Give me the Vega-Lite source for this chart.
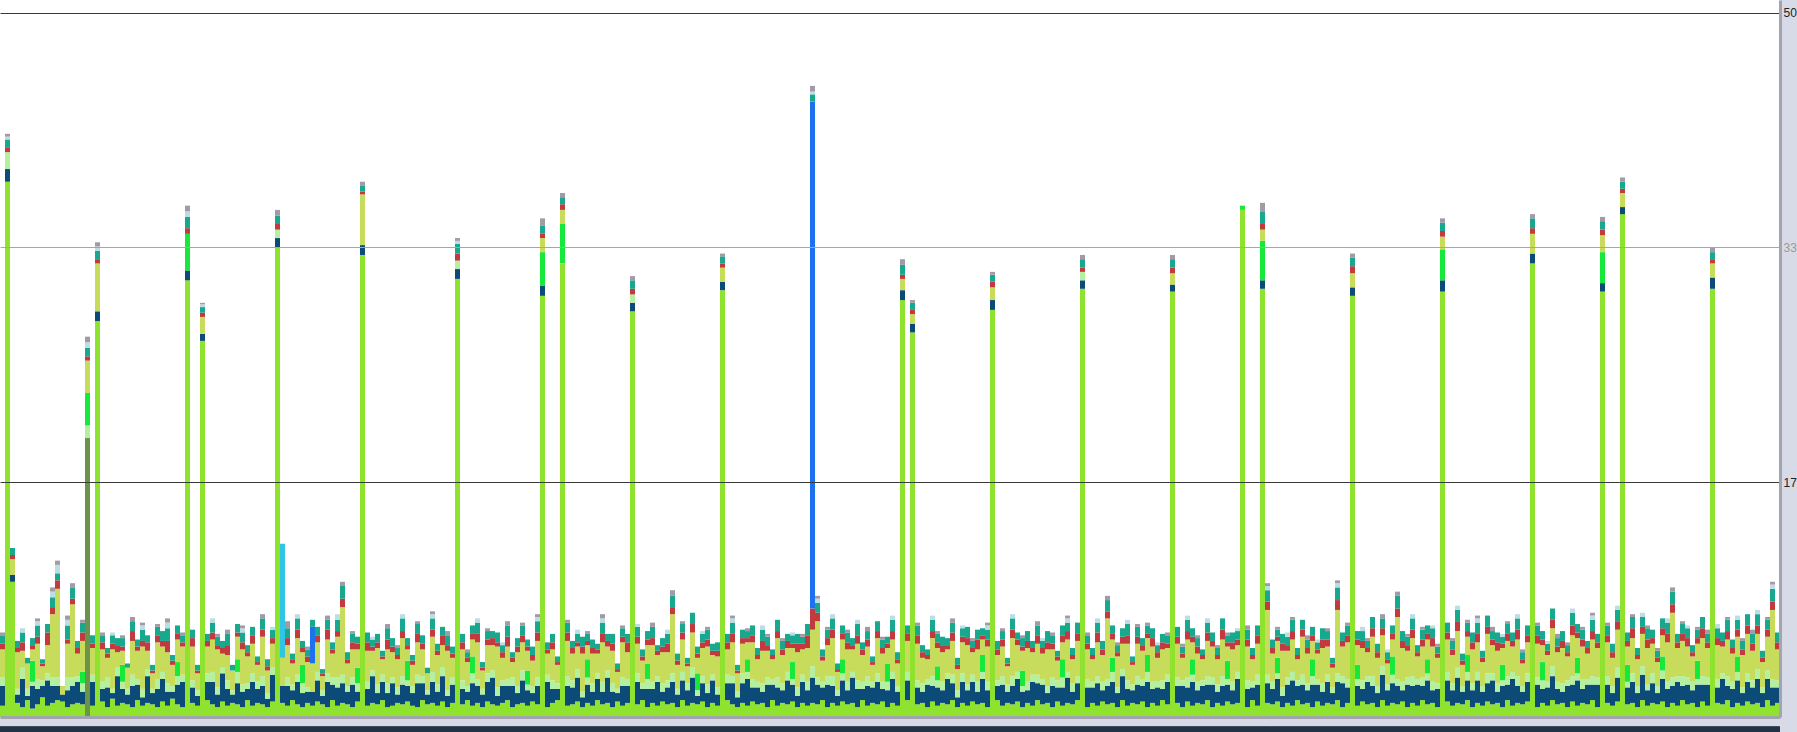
{
"$schema": "https://vega.github.io/schema/vega-lite/v6.json",
"width": 1780, "height": 717,
"autosize": {"type": "none"},
"padding": {"left": 0, "top": 0, "right": 17, "bottom": 15},
"background": "#d6dbe7",
"config": {"view": {"fill": "white", "stroke": null}},
"data": {"values": [
{"x":0,"b":0.8,"c":1.4,"d":0.6,"f":2.0,"g":0.4,"i":0.6,"k":0.2},
{"x":1,"b":38.0,"c":0.9,"d":1.2,"g":0.3,"i":0.6,"j":0.2,"k":0.2},
{"x":2,"b":9.6,"c":0.5,"f":1.1,"g":0.3,"i":0.5},
{"x":3,"b":1.0,"c":0.6,"d":0.4,"f":2.6,"g":0.3,"i":0.5},
{"x":4,"b":0.7,"c":2.0,"d":0.8,"f":1.2,"g":0.6,"i":0.7,"j":0.3},
{"x":5,"b":1.2,"c":0.3,"d":0.5,"f":1.8,"i":0.4},
{"x":6,"b":0.6,"c":1.6,"d":0.3,"e":1.5,"f":0.8,"g":0.3,"i":0.5},
{"x":7,"b":0.9,"c":1.1,"d":0.7,"f":2.5,"g":0.5,"i":0.8,"j":0.3,"k":0.2},
{"x":8,"b":1.4,"c":0.8,"d":0.4,"f":1.0,"g":0.2,"i":0.3},
{"x":9,"b":0.8,"c":1.8,"d":0.5,"f":2.0,"g":0.9,"i":0.6},
{"x":10,"b":1.0,"c":1.2,"d":0.6,"f":4.5,"g":0.5,"i":0.7,"j":0.4,"k":0.3},
{"x":11,"b":1.2,"c":1.0,"d":0.6,"f":6.3,"g":0.6,"i":0.5,"j":0.6,"k":0.3},
{"x":12,"b":1.1,"c":0.5,"f":0.6},
{"x":13,"b":0.7,"c":1.2,"d":0.9,"f":2.4,"g":0.3,"i":1.0,"j":0.4,"k":0.3},
{"x":14,"b":0.9,"c":1.3,"d":0.6,"f":5.2,"g":0.4,"i":0.8,"k":0.3},
{"x":15,"b":1.0,"c":1.5,"d":0.4,"f":1.6,"g":0.4,"i":0.5},
{"x":16,"b":0.9,"c":0.9,"d":0.6,"e":0.8,"f":2.2,"g":0.6,"i":0.7,"k":0.2},
{"x":17,"a":19.8,"d":0.9,"e":2.3,"f":2.3,"g":0.3,"i":0.6,"j":0.4,"k":0.4},
{"x":18,"b":0.8,"c":1.7,"d":0.5,"f":1.9,"g":0.3,"i":0.6},
{"x":19,"b":28.1,"c":0.7,"f":3.4,"g":0.3,"i":0.6,"j":0.3,"k":0.3},
{"x":20,"b":1.1,"c":0.9,"d":0.5,"f":2.3,"g":0.5,"i":0.5,"k":0.2},
{"x":21,"b":0.7,"c":1.4,"d":0.7,"f":1.4,"g":0.3,"i":0.4},
{"x":22,"b":1.3,"c":0.4,"d":0.3,"f":2.8,"g":0.4,"i":0.6,"j":0.2},
{"x":23,"b":0.8,"c":2.1,"d":0.6,"f":1.1,"g":0.5,"i":0.5},
{"x":24,"b":1.0,"c":1.0,"d":0.5,"e":1.2,"f":1.0,"g":0.3,"i":0.6,"k":0.2},
{"x":25,"b":0.9,"c":0.7,"d":0.4,"f":1.5,"i":0.3},
{"x":26,"b":0.7,"c":1.5,"d":0.8,"f":2.4,"g":0.7,"i":0.7,"k":0.3},
{"x":27,"b":1.2,"c":1.1,"d":0.4,"f":2.0,"g":0.3,"i":0.5},
{"x":28,"b":0.8,"c":0.6,"d":0.6,"f":3.0,"g":0.4,"i":0.8,"j":0.3,"k":0.2},
{"x":29,"b":1.0,"c":1.9,"d":0.5,"f":1.3,"g":0.6,"i":0.5},
{"x":30,"b":0.9,"c":0.8,"d":0.3,"f":1.1,"g":0.2,"i":0.4},
{"x":31,"b":0.7,"c":1.3,"d":0.7,"f":2.6,"g":0.5,"i":0.6,"k":0.2},
{"x":32,"b":1.1,"c":1.6,"d":0.5,"f":1.8,"g":0.4,"i":0.7},
{"x":33,"b":0.8,"c":1.0,"d":0.6,"f":2.2,"g":0.8,"i":0.9,"j":0.4,"k":0.3},
{"x":34,"b":1.3,"c":0.5,"d":0.4,"f":1.5,"g":0.3,"i":0.4},
{"x":35,"b":0.9,"c":1.4,"d":0.6,"e":1.0,"f":1.6,"g":0.4,"i":0.6},
{"x":36,"b":0.7,"c":1.8,"d":0.5,"f":2.0,"g":0.3,"i":0.5,"k":0.2},
{"x":37,"b":31.0,"c":0.7,"e":2.6,"g":0.4,"i":0.8,"j":0.4,"k":0.4},
{"x":38,"b":1.0,"c":1.1,"d":0.5,"f":2.4,"g":0.6,"i":0.6},
{"x":39,"b":0.8,"c":0.7,"d":0.4,"f":1.2,"g":0.2,"i":0.4},
{"x":40,"b":26.7,"c":0.5,"f":1.2,"g":0.3,"i":0.4,"j":0.2,"k":0.1},
{"x":41,"b":1.2,"c":1.3,"d":0.6,"f":1.9,"g":0.4,"i":0.5},
{"x":42,"b":0.9,"c":1.6,"d":0.7,"f":2.3,"g":0.5,"i":0.7,"j":0.3},
{"x":43,"b":0.7,"c":0.9,"d":0.5,"f":2.7,"g":0.3,"i":0.6,"k":0.2},
{"x":44,"b":1.1,"c":2.0,"d":0.4,"f":1.0,"g":0.4,"i":0.5},
{"x":45,"b":0.8,"c":1.2,"d":0.6,"f":1.8,"g":0.7,"i":0.8,"k":0.3},
{"x":46,"b":1.0,"c":0.6,"d":0.3,"f":1.4,"i":0.4},
{"x":47,"b":0.9,"c":1.5,"d":0.8,"e":0.9,"f":1.6,"g":0.3,"i":0.6},
{"x":48,"b":0.7,"c":1.1,"d":0.5,"f":2.5,"g":0.5,"i":0.7,"j":0.3,"k":0.2},
{"x":49,"b":1.2,"c":0.8,"d":0.4,"f":1.9,"g":0.3,"i":0.5},
{"x":50,"b":0.8,"c":1.7,"d":0.6,"f":2.1,"g":0.6,"i":0.6},
{"x":51,"b":1.0,"c":1.0,"d":0.5,"f":1.2,"g":0.2,"i":0.4},
{"x":52,"b":0.9,"c":1.3,"d":0.7,"f":2.8,"g":0.5,"i":0.8,"k":0.3},
{"x":53,"b":0.7,"c":0.6,"d":0.4,"f":1.6,"g":0.3,"i":0.5},
{"x":54,"b":1.1,"c":1.9,"d":0.5,"f":1.7,"g":0.4,"i":0.6,"j":0.2},
{"x":55,"b":33.3,"c":0.7,"d":0.6,"g":0.4,"i":0.6,"k":0.4},
{"x":56,"b":1.0,"c":1.2,"f":2.0,"l":8.1},
{"x":57,"b":0.8,"c":1.4,"d":0.6,"f":2.3,"g":0.5,"i":0.7,"k":0.5},
{"x":58,"b":1.2,"c":0.7,"d":0.4,"f":1.5,"g":0.3,"i":0.4},
{"x":59,"b":0.9,"c":1.6,"d":0.5,"f":2.6,"g":0.6,"i":0.8,"j":0.3},
{"x":60,"b":0.7,"c":1.0,"d":0.7,"e":1.3,"f":0.9,"g":0.3,"i":0.5},
{"x":61,"b":1.0,"c":0.8,"d":0.3,"f":1.8,"g":0.4,"i":0.5,"k":0.2},
{"x":62,"b":0.8,"c":1.0,"f":2.0,"h":2.6,"i":0.5},
{"x":63,"b":1.1,"c":1.5,"d":0.6,"f":2.1,"g":0.5,"i":0.6},
{"x":64,"b":0.9,"c":0.6,"d":0.4,"f":1.0,"g":0.2,"i":0.3},
{"x":65,"b":0.7,"c":1.8,"d":0.6,"f":2.4,"g":0.7,"i":0.7,"k":0.3},
{"x":66,"b":1.2,"c":1.1,"d":0.5,"f":1.7,"g":0.3,"i":0.5},
{"x":67,"b":0.8,"c":1.3,"d":0.7,"f":2.9,"g":0.4,"i":0.8,"j":0.4},
{"x":68,"b":1.0,"c":1.4,"d":0.6,"f":4.8,"g":0.6,"i":0.9,"k":0.3},
{"x":69,"b":0.9,"c":0.9,"d":0.4,"f":1.6,"g":0.3,"i":0.5},
{"x":70,"b":0.7,"c":1.6,"d":0.5,"f":2.0,"g":0.5,"i":0.6,"k":0.2},
{"x":71,"b":1.1,"c":0.7,"d":0.6,"e":1.1,"f":1.3,"g":0.4,"i":0.5},
{"x":72,"b":32.8,"c":0.7,"f":3.6,"g":0.2,"i":0.4,"k":0.3},
{"x":73,"b":0.8,"c":1.2,"d":0.5,"f":2.2,"g":0.6,"i":0.7},
{"x":74,"b":1.0,"c":1.9,"d":0.4,"f":1.4,"g":0.3,"i":0.5,"j":0.2},
{"x":75,"b":0.9,"c":0.8,"d":0.6,"f":2.6,"g":0.4,"i":0.6},
{"x":76,"b":1.2,"c":1.3,"d":0.5,"f":1.1,"g":0.2,"i":0.4},
{"x":77,"b":0.7,"c":1.0,"d":0.7,"f":2.4,"g":0.7,"i":0.8,"k":0.3},
{"x":78,"b":0.8,"c":1.6,"d":0.4,"f":1.8,"g":0.4,"i":0.6},
{"x":79,"b":1.0,"c":0.6,"d":0.5,"f":2.0,"g":0.3,"i":0.5,"k":0.2},
{"x":80,"b":0.9,"c":1.4,"d":0.6,"f":2.7,"g":0.5,"i":0.9,"j":0.3},
{"x":81,"b":1.1,"c":1.1,"d":0.4,"e":1.4,"f":0.8,"g":0.3,"i":0.5},
{"x":82,"b":0.8,"c":0.9,"d":0.5,"f":1.5,"g":0.3,"i":0.4},
{"x":83,"b":0.7,"c":1.7,"d":0.6,"f":2.3,"g":0.6,"i":0.7,"k":0.2},
{"x":84,"b":1.2,"c":1.2,"d":0.5,"f":1.9,"g":0.4,"i":0.6},
{"x":85,"b":0.9,"c":0.7,"d":0.3,"f":1.2,"i":0.4},
{"x":86,"b":1.0,"c":1.5,"d":0.7,"f":2.5,"g":0.5,"i":0.8,"j":0.3,"k":0.2},
{"x":87,"b":0.8,"c":1.0,"d":0.5,"f":2.1,"g":0.3,"i":0.5},
{"x":88,"b":1.1,"c":1.8,"d":0.6,"f":1.6,"g":0.7,"i":0.6},
{"x":89,"b":0.7,"c":0.8,"d":0.4,"f":2.8,"g":0.4,"i":0.7,"k":0.3},
{"x":90,"b":1.0,"c":1.3,"d":0.5,"f":1.4,"g":0.3,"i":0.5},
{"x":91,"b":31.1,"c":0.7,"d":0.6,"g":0.5,"i":0.7,"j":0.2,"k":0.2},
{"x":92,"b":0.9,"c":1.1,"d":0.6,"f":2.2,"g":0.5,"i":0.6},
{"x":93,"b":1.2,"c":0.6,"d":0.4,"f":1.7,"g":0.3,"i":0.4,"k":0.2},
{"x":94,"b":0.8,"c":1.6,"d":0.7,"e":1.2,"f":1.2,"g":0.4,"i":0.6},
{"x":95,"b":1.0,"c":1.2,"d":0.5,"f":2.6,"g":0.6,"i":0.8,"j":0.3},
{"x":96,"b":0.7,"c":0.9,"d":0.4,"f":1.3,"g":0.2,"i":0.4},
{"x":97,"b":1.1,"c":1.4,"d":0.6,"f":2.0,"g":0.4,"i":0.6,"k":0.2},
{"x":98,"b":0.9,"c":1.9,"d":0.5,"f":1.8,"g":0.5,"i":0.5},
{"x":99,"b":0.8,"c":0.7,"d":0.6,"f":2.9,"g":0.3,"i":0.7},
{"x":100,"b":1.0,"c":1.2,"d":0.4,"f":1.6,"g":0.4,"i":0.5,"j":0.2},
{"x":101,"b":1.2,"c":1.0,"d":0.5,"f":2.3,"g":0.7,"i":0.8,"k":0.3},
{"x":102,"b":0.7,"c":1.5,"d":0.6,"f":1.1,"g":0.3,"i":0.4},
{"x":103,"b":0.9,"c":0.8,"d":0.5,"f":2.4,"g":0.4,"i":0.6},
{"x":104,"b":1.0,"c":1.6,"d":0.7,"f":2.0,"g":0.5,"i":0.7,"k":0.2},
{"x":105,"b":0.8,"c":1.1,"d":0.4,"e":1.0,"f":1.4,"g":0.3,"i":0.5},
{"x":106,"b":1.1,"c":0.6,"d":0.5,"f":1.8,"g":0.4,"i":0.6},
{"x":107,"b":0.9,"c":1.3,"d":0.6,"f":2.6,"g":0.6,"i":0.8,"j":0.3,"k":0.2},
{"x":108,"b":29.9,"c":0.7,"e":2.4,"f":1.0,"g":0.3,"i":0.6,"k":0.5},
{"x":109,"b":0.7,"c":1.8,"d":0.5,"f":1.5,"g":0.3,"i":0.5},
{"x":110,"b":1.0,"c":1.0,"d":0.6,"f":2.2,"g":0.5,"i":0.6},
{"x":111,"b":1.2,"c":0.8,"d":0.4,"f":1.3,"g":0.2,"i":0.4},
{"x":112,"b":32.2,"e":2.8,"f":1.0,"g":0.4,"i":0.5,"k":0.3},
{"x":113,"b":0.8,"c":1.4,"d":0.7,"f":2.5,"g":0.6,"i":0.7,"k":0.2},
{"x":114,"b":0.9,"c":1.2,"d":0.5,"f":1.9,"g":0.4,"i":0.5},
{"x":115,"b":1.1,"c":1.7,"d":0.6,"f":1.6,"g":0.3,"i":0.6,"j":0.3},
{"x":116,"b":0.7,"c":0.7,"d":0.4,"f":2.7,"g":0.5,"i":0.7},
{"x":117,"b":1.0,"c":1.3,"d":0.5,"e":1.3,"f":1.0,"g":0.3,"i":0.5,"k":0.2},
{"x":118,"b":0.8,"c":1.0,"d":0.6,"f":2.1,"g":0.4,"i":0.6},
{"x":119,"b":1.2,"c":1.5,"d":0.4,"f":1.4,"g":0.3,"i":0.4},
{"x":120,"b":0.9,"c":0.9,"d":0.7,"f":2.8,"g":0.6,"i":0.8,"j":0.3,"k":0.3},
{"x":121,"b":1.0,"c":1.8,"d":0.5,"f":1.7,"g":0.4,"i":0.5},
{"x":122,"b":0.7,"c":1.1,"d":0.6,"f":2.3,"g":0.5,"i":0.7},
{"x":123,"b":1.1,"c":0.6,"d":0.3,"f":1.2,"g":0.2,"i":0.4},
{"x":124,"b":0.8,"c":1.4,"d":0.6,"f":2.5,"g":0.4,"i":0.6,"k":0.2},
{"x":125,"b":1.0,"c":1.2,"d":0.5,"f":1.9,"g":0.7,"i":0.6},
{"x":126,"b":28.8,"c":0.6,"d":0.6,"g":0.4,"i":0.6,"k":0.3},
{"x":127,"b":0.9,"c":1.6,"d":0.6,"f":2.1,"g":0.5,"i":0.7,"j":0.2},
{"x":128,"b":1.2,"c":0.8,"d":0.4,"f":1.6,"g":0.3,"i":0.5},
{"x":129,"b":0.7,"c":1.3,"d":0.7,"e":1.1,"f":1.3,"g":0.4,"i":0.6},
{"x":130,"b":1.0,"c":1.0,"d":0.5,"f":2.6,"g":0.5,"i":0.8,"k":0.3},
{"x":131,"b":0.8,"c":1.7,"d":0.4,"f":1.5,"g":0.3,"i":0.4},
{"x":132,"b":1.1,"c":0.7,"d":0.6,"f":2.2,"g":0.4,"i":0.6},
{"x":133,"b":0.9,"c":1.2,"d":0.5,"f":2.0,"g":0.6,"i":0.7,"j":0.3},
{"x":134,"b":1.0,"c":1.5,"d":0.6,"f":4.2,"g":0.5,"i":0.8,"k":0.4},
{"x":135,"b":0.7,"c":0.9,"d":0.4,"f":1.7,"g":0.3,"i":0.5},
{"x":136,"b":1.2,"c":1.4,"d":0.6,"f":2.3,"g":0.5,"i":0.6,"k":0.2},
{"x":137,"b":0.8,"c":1.1,"d":0.5,"f":1.2,"g":0.2,"i":0.4},
{"x":138,"b":1.0,"c":1.8,"d":0.7,"f":2.5,"g":0.6,"i":0.8},
{"x":139,"b":0.9,"c":0.6,"d":0.4,"e":1.2,"f":1.1,"g":0.3,"i":0.5},
{"x":140,"b":1.1,"c":1.3,"d":0.5,"f":2.0,"g":0.4,"i":0.6,"j":0.2},
{"x":141,"b":0.7,"c":1.0,"d":0.6,"f":2.7,"g":0.5,"i":0.7,"k":0.2},
{"x":142,"b":1.0,"c":1.6,"d":0.4,"f":1.4,"g":0.3,"i":0.5},
{"x":143,"b":0.8,"c":0.8,"d":0.5,"f":2.2,"g":0.4,"i":0.6},
{"x":144,"b":30.3,"c":0.6,"f":1.0,"g":0.3,"i":0.5,"k":0.2},
{"x":145,"b":1.2,"c":1.2,"d":0.6,"f":1.8,"g":0.5,"i":0.6},
{"x":146,"b":0.9,"c":1.5,"d":0.5,"f":2.4,"g":0.6,"i":0.8,"j":0.3,"k":0.2},
{"x":147,"b":0.7,"c":0.7,"d":0.4,"f":1.3,"g":0.2,"i":0.4},
{"x":148,"b":1.0,"c":1.4,"d":0.7,"f":2.1,"g":0.4,"i":0.6},
{"x":149,"b":0.8,"c":1.9,"d":0.5,"e":0.9,"f":1.2,"g":0.3,"i":0.5,"k":0.2},
{"x":150,"b":1.1,"c":1.0,"d":0.6,"f":2.6,"g":0.5,"i":0.7},
{"x":151,"b":0.9,"c":1.2,"d":0.4,"f":1.6,"g":0.3,"i":0.5},
{"x":152,"b":1.0,"c":0.8,"d":0.6,"f":2.3,"g":0.7,"i":0.8,"j":0.3},
{"x":153,"b":0.7,"c":1.6,"d":0.5,"f":1.9,"g":0.4,"i":0.6,"k":0.2},
{"x":154,"b":1.2,"c":1.1,"d":0.4,"f":1.4,"g":0.3,"i":0.4},
{"x":155,"b":0.8,"c":1.3,"d":0.7,"f":2.8,"g":0.5,"i":0.8},
{"x":156,"b":1.0,"c":0.9,"d":0.5,"f":2.0,"g":0.4,"i":0.6,"k":0.2},
{"x":157,"b":0.9,"c":1.7,"d":0.6,"f":1.7,"g":0.5,"i":0.5},
{"x":158,"b":1.1,"c":1.2,"d":0.4,"e":1.2,"f":1.0,"g":0.3,"i":0.6,"j":0.2},
{"x":159,"b":0.7,"c":0.8,"d":0.6,"f":2.5,"g":0.6,"i":0.7},
{"x":160,"b":1.0,"c":1.5,"d":0.5,"f":1.8,"g":0.4,"i":0.5,"k":0.2},
{"x":161,"b":0.8,"c":1.1,"d":0.6,"f":2.4,"g":0.9,"i":0.8},
{"x":162,"b":1.0,"c":1.8,"d":0.8,"f":2.6,"g":1.5,"h":36.0,"i":0.5,"j":0.2,"k":0.4},
{"x":163,"b":0.9,"c":1.4,"d":0.5,"f":4.0,"g":0.6,"i":0.7,"j":0.3,"k":0.2},
{"x":164,"b":1.2,"c":0.9,"d":0.4,"f":1.5,"g":0.3,"i":0.5},
{"x":165,"b":0.7,"c":1.6,"d":0.6,"f":2.2,"g":0.5,"i":0.6,"k":0.2},
{"x":166,"b":1.0,"c":1.2,"d":0.7,"f":2.7,"g":0.6,"i":0.8,"j":0.3},
{"x":167,"b":0.8,"c":0.7,"d":0.4,"f":1.3,"g":0.2,"i":0.4},
{"x":168,"b":1.1,"c":1.5,"d":0.5,"e":1.0,"f":1.4,"g":0.4,"i":0.6},
{"x":169,"b":0.9,"c":1.0,"d":0.6,"f":2.3,"g":0.5,"i":0.7,"k":0.2},
{"x":170,"b":1.0,"c":1.8,"d":0.4,"f":1.6,"g":0.3,"i":0.5},
{"x":171,"b":0.7,"c":1.3,"d":0.6,"f":2.6,"g":0.6,"i":0.8,"j":0.3},
{"x":172,"b":1.2,"c":0.8,"d":0.5,"f":1.9,"g":0.4,"i":0.5},
{"x":173,"b":0.8,"c":1.4,"d":0.7,"f":2.1,"g":0.5,"i":0.6,"k":0.3},
{"x":174,"b":1.0,"c":1.1,"d":0.4,"f":1.2,"g":0.2,"i":0.4},
{"x":175,"b":0.9,"c":1.6,"d":0.6,"f":2.5,"g":0.5,"i":0.7},
{"x":176,"b":1.1,"c":0.9,"d":0.5,"f":2.0,"g":0.4,"i":0.6,"k":0.2},
{"x":177,"b":0.7,"c":1.2,"d":0.6,"e":1.3,"f":1.1,"g":0.3,"i":0.5},
{"x":178,"b":1.0,"c":1.7,"d":0.5,"f":2.3,"g":0.6,"i":0.8,"j":0.3},
{"x":179,"b":0.8,"c":1.0,"d":0.4,"f":1.6,"g":0.3,"i":0.5},
{"x":180,"b":29.6,"c":0.7,"f":0.8,"g":0.3,"i":0.7,"k":0.4},
{"x":181,"b":1.2,"c":1.4,"d":0.6,"f":2.2,"g":0.5,"i":0.6},
{"x":182,"b":27.3,"c":0.6,"f":0.7,"g":0.3,"i":0.5,"k":0.2},
{"x":183,"b":0.9,"c":1.2,"d":0.5,"f":2.6,"g":0.6,"i":0.7,"k":0.2},
{"x":184,"b":1.0,"c":0.8,"d":0.6,"f":1.8,"g":0.4,"i":0.5},
{"x":185,"b":0.7,"c":1.6,"d":0.4,"f":1.4,"g":0.3,"i":0.4},
{"x":186,"b":1.1,"c":1.1,"d":0.7,"f":2.7,"g":0.5,"i":0.8,"j":0.3},
{"x":187,"b":0.8,"c":1.3,"d":0.5,"e":1.0,"f":1.3,"g":0.4,"i":0.6,"k":0.2},
{"x":188,"b":1.0,"c":0.9,"d":0.6,"f":2.1,"g":0.5,"i":0.6},
{"x":189,"b":0.9,"c":1.8,"d":0.4,"f":1.7,"g":0.3,"i":0.5},
{"x":190,"b":1.2,"c":1.2,"d":0.6,"f":2.4,"g":0.6,"i":0.7,"k":0.3},
{"x":191,"b":0.7,"c":0.7,"d":0.5,"f":1.5,"g":0.3,"i":0.5},
{"x":192,"b":1.0,"c":1.5,"d":0.6,"f":2.2,"g":0.4,"i":0.6,"j":0.2},
{"x":193,"b":0.8,"c":1.1,"d":0.4,"f":2.8,"g":0.5,"i":0.8},
{"x":194,"b":1.1,"c":1.4,"d":0.5,"f":1.6,"g":0.3,"i":0.5,"k":0.2},
{"x":195,"b":0.9,"c":0.9,"d":0.7,"f":2.3,"g":0.7,"i":0.7},
{"x":196,"b":1.0,"c":1.7,"d":0.5,"e":1.2,"f":1.1,"g":0.3,"i":0.5},
{"x":197,"b":0.7,"c":1.2,"d":0.6,"f":2.5,"g":0.5,"i":0.7,"j":0.3,"k":0.2},
{"x":198,"b":28.9,"c":0.7,"f":0.9,"g":0.4,"i":0.5,"k":0.2},
{"x":199,"b":1.2,"c":1.0,"d":0.4,"f":1.8,"g":0.4,"i":0.6},
{"x":200,"b":0.8,"c":1.5,"d":0.6,"f":2.1,"g":0.5,"i":0.6,"k":0.2},
{"x":201,"b":1.0,"c":0.8,"d":0.5,"f":1.3,"g":0.2,"i":0.4},
{"x":202,"b":0.9,"c":1.3,"d":0.7,"f":2.7,"g":0.6,"i":0.8,"j":0.3},
{"x":203,"b":1.1,"c":1.6,"d":0.5,"f":1.9,"g":0.4,"i":0.5},
{"x":204,"b":0.7,"c":1.1,"d":0.4,"e":1.1,"f":1.4,"g":0.3,"i":0.6,"k":0.2},
{"x":205,"b":1.0,"c":0.9,"d":0.6,"f":2.4,"g":0.5,"i":0.7},
{"x":206,"b":0.8,"c":1.7,"d":0.5,"f":1.6,"g":0.3,"i":0.5},
{"x":207,"b":1.2,"c":1.2,"d":0.6,"f":2.2,"g":0.6,"i":0.7,"k":0.3},
{"x":208,"b":0.9,"c":1.4,"d":0.4,"f":1.8,"g":0.4,"i":0.5,"j":0.2},
{"x":209,"b":1.0,"c":0.7,"d":0.5,"f":2.6,"g":0.5,"i":0.8},
{"x":210,"b":0.7,"c":1.5,"d":0.6,"f":2.0,"g":0.4,"i":0.6,"k":0.2},
{"x":211,"b":1.1,"c":1.0,"d":0.5,"f":1.4,"g":0.3,"i":0.4},
{"x":212,"b":0.8,"c":1.3,"d":0.7,"e":1.3,"f":1.2,"g":0.5,"i":0.7},
{"x":213,"b":1.0,"c":1.8,"d":0.4,"f":2.3,"g":0.6,"i":0.6,"j":0.3,"k":0.2},
{"x":214,"b":0.9,"c":0.9,"d":0.6,"f":1.7,"g":0.3,"i":0.5},
{"x":215,"b":1.2,"c":1.2,"d":0.5,"f":2.5,"g":0.5,"i":0.8},
{"x":216,"b":30.4,"c":0.6,"d":0.6,"g":0.3,"i":0.6,"k":0.3},
{"x":217,"b":0.7,"c":1.4,"d":0.6,"f":2.1,"g":0.4,"i":0.6,"k":0.2},
{"x":218,"b":1.0,"c":1.1,"d":0.4,"f":1.6,"g":0.3,"i":0.5},
{"x":219,"b":0.8,"c":1.6,"d":0.5,"f":2.4,"g":0.7,"i":0.7,"j":0.3},
{"x":220,"b":1.1,"c":0.8,"d":0.6,"f":1.9,"g":0.4,"i":0.6},
{"x":221,"b":0.9,"c":1.3,"d":0.5,"f":4.3,"g":0.5,"i":0.8,"k":0.3},
{"x":222,"b":1.0,"c":1.5,"d":0.7,"e":1.0,"f":1.3,"g":0.4,"i":0.6},
{"x":223,"b":0.7,"c":1.0,"d":0.4,"f":2.2,"g":0.3,"i":0.5,"k":0.2},
{"x":224,"b":1.2,"c":1.7,"d":0.5,"f":1.8,"g":0.5,"i":0.6},
{"x":225,"b":0.8,"c":1.2,"d":0.6,"f":2.6,"g":0.6,"i":0.8,"j":0.3},
{"x":226,"b":1.0,"c":0.9,"d":0.4,"f":1.4,"g":0.2,"i":0.4},
{"x":227,"b":0.9,"c":1.4,"d":0.6,"f":2.3,"g":0.5,"i":0.7,"k":0.2},
{"x":228,"b":1.1,"c":1.1,"d":0.5,"f":2.0,"g":0.4,"i":0.5},
{"x":229,"b":0.7,"c":1.8,"d":0.7,"e":1.2,"f":1.2,"g":0.3,"i":0.6,"k":0.2},
{"x":230,"b":1.0,"c":1.0,"d":0.5,"f":2.5,"g":0.6,"i":0.7},
{"x":231,"b":0.8,"c":1.3,"d":0.4,"f":1.7,"g":0.4,"i":0.5,"j":0.2},
{"x":232,"b":1.2,"c":0.8,"d":0.6,"f":2.2,"g":0.5,"i":0.6},
{"x":233,"b":0.9,"c":1.6,"d":0.5,"f":1.9,"g":0.3,"i":0.6,"k":0.2},
{"x":234,"b":30.2,"c":0.5,"f":0.8,"g":0.4,"i":0.6,"k":0.3},
{"x":235,"b":1.0,"c":1.2,"d":0.6,"f":2.4,"g":0.5,"i":0.7},
{"x":236,"b":0.7,"c":1.5,"d":0.4,"f":1.6,"g":0.3,"i":0.5,"k":0.2},
{"x":237,"b":1.1,"c":1.0,"d":0.7,"f":2.7,"g":0.6,"i":0.8,"j":0.3},
{"x":238,"b":0.8,"c":1.7,"d":0.5,"e":1.1,"f":1.2,"g":0.4,"i":0.6},
{"x":239,"b":1.0,"c":0.9,"d":0.6,"f":2.0,"g":0.5,"i":0.6,"k":0.2},
{"x":240,"b":0.9,"c":1.3,"d":0.4,"f":1.5,"g":0.3,"i":0.4},
{"x":241,"b":1.2,"c":1.1,"d":0.6,"f":2.5,"g":0.6,"i":0.7,"j":0.3},
{"x":242,"b":0.7,"c":1.6,"d":0.5,"f":2.2,"g":0.4,"i":0.6},
{"x":243,"b":1.0,"c":0.8,"d":0.5,"f":1.8,"g":0.3,"i":0.5,"k":0.2},
{"x":244,"b":0.8,"c":1.4,"d":0.7,"f":2.6,"g":0.7,"i":0.8},
{"x":245,"b":1.1,"c":1.2,"d":0.4,"e":1.3,"f":1.0,"g":0.3,"i":0.5,"k":0.2},
{"x":246,"b":0.9,"c":1.0,"d":0.6,"f":2.3,"g":0.5,"i":0.7},
{"x":247,"b":1.0,"c":1.7,"d":0.5,"f":1.9,"g":0.4,"i":0.6,"j":0.2},
{"x":248,"b":36.0,"e":0.3},
{"x":249,"b":0.7,"c":1.3,"d":0.6,"f":2.4,"g":0.5,"i":0.7,"k":0.3},
{"x":250,"b":1.2,"c":0.9,"d":0.4,"f":1.6,"g":0.3,"i":0.5},
{"x":251,"b":0.8,"c":1.5,"d":0.7,"f":2.2,"g":0.6,"i":0.7},
{"x":252,"b":30.4,"c":0.6,"e":2.8,"f":0.8,"g":0.4,"i":0.9,"k":0.6},
{"x":253,"b":1.0,"c":1.4,"d":0.6,"f":4.6,"g":0.6,"i":0.8,"j":0.3,"k":0.2},
{"x":254,"b":0.9,"c":1.1,"d":0.5,"f":2.0,"g":0.4,"i":0.6},
{"x":255,"b":1.1,"c":1.6,"d":0.4,"e":1.1,"f":1.2,"g":0.3,"i":0.5,"k":0.2},
{"x":256,"b":0.7,"c":0.8,"d":0.6,"f":2.6,"g":0.5,"i":0.7},
{"x":257,"b":1.0,"c":1.3,"d":0.5,"f":1.9,"g":0.4,"i":0.6,"j":0.3},
{"x":258,"b":0.8,"c":1.8,"d":0.6,"f":2.3,"g":0.6,"i":0.8,"k":0.2},
{"x":259,"b":1.2,"c":1.0,"d":0.4,"f":1.5,"g":0.3,"i":0.5},
{"x":260,"b":0.9,"c":1.4,"d":0.7,"f":2.7,"g":0.5,"i":0.7},
{"x":261,"b":1.0,"c":0.9,"d":0.5,"f":2.1,"g":0.4,"i":0.6,"k":0.3},
{"x":262,"b":0.7,"c":1.6,"d":0.6,"e":1.2,"f":1.3,"g":0.4,"i":0.6},
{"x":263,"b":1.1,"c":1.2,"d":0.4,"f":1.8,"g":0.3,"i":0.5,"j":0.2},
{"x":264,"b":0.8,"c":1.0,"d":0.6,"f":2.5,"g":0.6,"i":0.8},
{"x":265,"b":1.0,"c":1.5,"d":0.5,"f":2.0,"g":0.5,"i":0.6,"k":0.2},
{"x":266,"b":0.9,"c":0.8,"d":0.4,"f":1.4,"g":0.3,"i":0.4},
{"x":267,"b":1.2,"c":1.3,"d":0.6,"f":4.5,"g":0.7,"i":0.9,"j":0.3,"k":0.2},
{"x":268,"b":0.7,"c":1.7,"d":0.5,"f":2.1,"g":0.4,"i":0.6},
{"x":269,"b":1.0,"c":1.1,"d":0.6,"f":2.6,"g":0.5,"i":0.7,"k":0.2},
{"x":270,"b":29.9,"c":0.6,"f":1.0,"g":0.5,"i":0.6,"k":0.3},
{"x":271,"b":0.8,"c":1.4,"d":0.5,"e":1.0,"f":1.4,"g":0.4,"i":0.6},
{"x":272,"b":1.1,"c":0.9,"d":0.6,"f":2.3,"g":0.5,"i":0.7,"j":0.3},
{"x":273,"b":0.9,"c":1.6,"d":0.4,"f":1.7,"g":0.3,"i":0.5,"k":0.2},
{"x":274,"b":1.0,"c":1.2,"d":0.7,"f":2.8,"g":0.6,"i":0.8},
{"x":275,"b":0.7,"c":1.0,"d":0.5,"f":2.0,"g":0.4,"i":0.6},
{"x":276,"b":1.2,"c":1.8,"d":0.6,"f":2.2,"g":0.5,"i":0.7,"k":0.3},
{"x":277,"b":0.8,"c":1.1,"d":0.4,"f":1.5,"g":0.3,"i":0.5,"j":0.2},
{"x":278,"b":1.0,"c":1.4,"d":0.6,"e":1.3,"f":1.2,"g":0.4,"i":0.6},
{"x":279,"b":0.9,"c":1.3,"d":0.5,"f":4.4,"g":0.6,"i":0.9,"k":0.3},
{"x":280,"b":1.1,"c":0.8,"d":0.6,"f":2.4,"g":0.5,"i":0.7},
{"x":281,"b":0.7,"c":1.6,"d":0.5,"f":1.9,"g":0.4,"i":0.6,"k":0.2},
{"x":282,"b":1.0,"c":1.2,"d":0.7,"f":2.7,"g":0.6,"i":0.8,"j":0.3},
{"x":283,"b":0.8,"c":1.5,"d":0.4,"f":1.6,"g":0.3,"i":0.5},
{"x":284,"b":1.2,"c":1.0,"d":0.6,"f":2.2,"g":0.5,"i":0.7,"k":0.2},
{"x":285,"b":0.9,"c":1.7,"d":0.5,"e":1.0,"f":1.4,"g":0.4,"i":0.6},
{"x":286,"b":1.0,"c":0.9,"d":0.6,"f":2.5,"g":0.6,"i":0.7,"j":0.2},
{"x":287,"b":0.7,"c":1.3,"d":0.4,"f":1.8,"g":0.3,"i":0.5,"k":0.2},
{"x":288,"b":30.2,"c":0.8,"e":2.2,"f":0.9,"g":0.4,"i":0.6,"k":0.3},
{"x":289,"b":1.1,"c":1.5,"d":0.6,"f":2.3,"g":0.5,"i":0.7},
{"x":290,"b":0.8,"c":1.1,"d":0.5,"f":2.0,"g":0.4,"i":0.6,"k":0.2},
{"x":291,"b":1.0,"c":1.8,"d":0.7,"f":2.6,"g":0.7,"i":0.8,"j":0.3},
{"x":292,"b":0.9,"c":0.9,"d":0.4,"f":1.5,"g":0.3,"i":0.5},
{"x":293,"b":1.2,"c":1.4,"d":0.6,"e":1.2,"f":1.3,"g":0.4,"i":0.6,"k":0.2},
{"x":294,"b":0.7,"c":1.2,"d":0.5,"f":2.4,"g":0.5,"i":0.7},
{"x":295,"b":1.0,"c":1.6,"d":0.6,"f":2.1,"g":0.6,"i":0.8,"j":0.3,"k":0.2},
{"x":296,"b":0.8,"c":1.0,"d":0.4,"f":1.7,"g":0.3,"i":0.5},
{"x":297,"b":1.1,"c":1.3,"d":0.7,"f":2.8,"g":0.5,"i":0.8},
{"x":298,"b":0.9,"c":1.7,"d":0.5,"f":2.0,"g":0.4,"i":0.6,"k":0.3},
{"x":299,"b":1.0,"c":0.8,"d":0.6,"f":2.3,"g":0.6,"i":0.7},
{"x":300,"b":0.7,"c":1.5,"d":0.4,"e":1.1,"f":1.2,"g":0.3,"i":0.5,"j":0.2},
{"x":301,"b":1.2,"c":1.1,"d":0.6,"f":2.5,"g":0.5,"i":0.7,"k":0.2},
{"x":302,"b":0.8,"c":1.9,"d":0.5,"f":1.8,"g":0.4,"i":0.6},
{"x":303,"b":1.0,"c":1.2,"d":0.7,"f":2.6,"g":0.7,"i":0.8,"j":0.3},
{"x":304,"b":0.9,"c":0.9,"d":0.4,"f":1.6,"g":0.3,"i":0.5,"k":0.2},
{"x":305,"b":1.1,"c":1.4,"d":0.6,"f":2.2,"g":0.5,"i":0.7},
{"x":306,"b":32.2,"c":0.7,"f":1.4,"g":0.4,"i":0.7,"k":0.3},
{"x":307,"b":0.7,"c":1.6,"d":0.5,"f":2.4,"g":0.6,"i":0.7,"k":0.2},
{"x":308,"b":1.0,"c":1.0,"d":0.6,"e":1.3,"f":1.2,"g":0.4,"i":0.6},
{"x":309,"b":0.8,"c":1.3,"d":0.4,"f":1.9,"g":0.3,"i":0.5,"j":0.2},
{"x":310,"b":1.2,"c":1.7,"d":0.7,"f":2.7,"g":0.6,"i":0.8},
{"x":311,"b":0.9,"c":1.1,"d":0.5,"f":2.1,"g":0.4,"i":0.6,"k":0.3},
{"x":312,"b":1.0,"c":0.8,"d":0.6,"f":2.5,"g":0.5,"i":0.7},
{"x":313,"b":0.7,"c":1.5,"d":0.4,"f":1.7,"g":0.3,"i":0.5,"k":0.2},
{"x":314,"b":1.1,"c":1.2,"d":0.6,"f":2.9,"g":0.7,"i":0.9,"j":0.3},
{"x":315,"b":0.8,"c":1.8,"d":0.5,"e":1.1,"f":1.4,"g":0.4,"i":0.6},
{"x":316,"b":1.0,"c":1.0,"d":0.7,"f":2.3,"g":0.5,"i":0.7,"k":0.2},
{"x":317,"b":0.9,"c":1.4,"d":0.4,"f":1.8,"g":0.4,"i":0.5},
{"x":318,"b":1.2,"c":1.1,"d":0.6,"f":2.6,"g":0.6,"i":0.8,"j":0.3,"k":0.2},
{"x":319,"b":0.7,"c":1.6,"d":0.5,"f":2.1,"g":0.4,"i":0.6},
{"x":320,"b":30.2,"c":0.6,"e":2.2,"f":1.2,"g":0.4,"i":0.6,"k":0.3},
{"x":321,"b":1.0,"c":1.3,"d":0.6,"f":2.4,"g":0.5,"i":0.7,"k":0.2},
{"x":322,"b":0.8,"c":0.9,"d":0.5,"f":2.0,"g":0.4,"i":0.6},
{"x":323,"b":1.1,"c":1.7,"d":0.7,"f":2.7,"g":0.6,"i":0.8,"j":0.3},
{"x":324,"b":35.7,"c":0.5,"f":1.0,"g":0.3,"i":0.5,"k":0.3},
{"x":325,"b":0.9,"c":1.2,"d":0.4,"e":1.2,"f":1.3,"g":0.4,"i":0.6},
{"x":326,"b":1.0,"c":1.5,"d":0.6,"f":2.5,"g":0.7,"i":0.8,"k":0.2},
{"x":327,"b":0.7,"c":1.0,"d":0.5,"f":1.9,"g":0.3,"i":0.5},
{"x":328,"b":1.2,"c":1.8,"d":0.6,"f":2.3,"g":0.5,"i":0.7,"j":0.3},
{"x":329,"b":0.8,"c":1.1,"d":0.4,"f":2.6,"g":0.6,"i":0.8,"k":0.2},
{"x":330,"b":1.0,"c":1.4,"d":0.7,"f":2.1,"g":0.4,"i":0.6},
{"x":331,"b":0.9,"c":0.8,"d":0.5,"f":1.7,"g":0.3,"i":0.5,"k":0.2},
{"x":332,"b":1.1,"c":1.6,"d":0.6,"e":1.0,"f":1.5,"g":0.5,"i":0.7},
{"x":333,"b":0.7,"c":1.3,"d":0.5,"f":2.8,"g":0.6,"i":0.8,"j":0.3},
{"x":334,"b":1.0,"c":1.2,"d":0.6,"f":4.6,"g":0.6,"i":0.9,"k":0.3},
{"x":335,"b":0.8,"c":1.7,"d":0.4,"f":2.0,"g":0.4,"i":0.6},
{"x":336,"b":1.2,"c":1.0,"d":0.7,"f":2.5,"g":0.5,"i":0.7,"k":0.2},
{"x":337,"b":0.9,"c":1.4,"d":0.5,"f":2.2,"g":0.6,"i":0.7,"j":0.2},
{"x":338,"b":1.0,"c":0.9,"d":0.6,"f":1.8,"g":0.3,"i":0.5},
{"x":339,"b":0.7,"c":1.6,"d":0.4,"e":1.3,"f":1.2,"g":0.4,"i":0.6,"k":0.2},
{"x":340,"b":1.1,"c":1.2,"d":0.6,"f":2.7,"g":0.7,"i":0.8},
{"x":341,"b":0.8,"c":1.5,"d":0.5,"f":2.1,"g":0.4,"i":0.6,"k":0.3},
{"x":342,"b":30.4,"c":0.8,"f":1.0,"g":0.3,"i":0.5,"k":0.3},
{"x":343,"b":1.0,"c":1.1,"d":0.6,"f":2.4,"g":0.5,"i":0.7,"j":0.3},
{"x":344,"b":0.9,"c":1.8,"d":0.4,"f":1.9,"g":0.4,"i":0.6},
{"x":345,"b":1.2,"c":1.0,"d":0.7,"f":2.6,"g":0.6,"i":0.8,"k":0.2},
{"x":346,"b":0.7,"c":1.3,"d":0.5,"f":2.0,"g":0.4,"i":0.6},
{"x":347,"b":1.0,"c":1.6,"d":0.6,"e":1.1,"f":1.4,"g":0.5,"i":0.7,"j":0.3},
{"x":348,"b":0.8,"c":0.9,"d":0.4,"f":2.3,"g":0.4,"i":0.6,"k":0.2},
{"x":349,"b":1.1,"c":1.4,"d":0.6,"f":2.8,"g":0.6,"i":0.8},
{"x":350,"b":0.9,"c":1.2,"d":0.5,"f":2.1,"g":0.5,"i":0.7,"k":0.3},
{"x":351,"b":1.0,"c":1.7,"d":0.7,"f":2.5,"g":0.6,"i":0.8,"j":0.3},
{"x":352,"b":0.7,"c":1.0,"d":0.4,"f":1.8,"g":0.3,"i":0.5},
{"x":353,"b":1.2,"c":1.5,"d":0.6,"f":2.4,"g":0.5,"i":0.7,"k":0.2},
{"x":354,"b":0.8,"c":1.3,"d":0.6,"f":4.9,"g":0.6,"i":0.9,"j":0.3,"k":0.2},
{"x":355,"b":1.0,"c":1.1,"d":0.5,"f":2.2,"g":0.5,"i":0.7}
]},
"layer": [
{
"transform": [
{"fold": ["a","b","c","d","e","f","g","h","i","j","k","l"]},
{"filter": "datum.value > 0"}
],
"mark": {"type": "bar"},
"encoding": {
"x": {"field": "x", "type": "ordinal", "scale": {"paddingInner": 0, "paddingOuter": 0},
"axis": {"orient": "bottom", "labels": false, "ticks": false, "title": null, "grid": false, "domain": true, "domainColor": "#a2a5af", "domainWidth": 3, "zindex": 1}},
"y": {"field": "value", "type": "quantitative", "stack": "zero",
"scale": {"domain": [0, 50.9], "nice": false, "zero": true},
"axis": {"orient": "right", "values": [16.6667, 33.3333, 50], "labelExpr": "format(datum.value, '.0f')",
"title": null, "ticks": false, "grid": true, "gridWidth": 1,
"gridColor": {"condition": {"test": "datum.value > 30 && datum.value < 40", "value": "#a6a6a6"}, "value": "#3a3a3a"},
"labelColor": {"condition": {"test": "datum.value > 30 && datum.value < 40", "value": "#9a9a9a"}, "value": "#222222"},
"labelFont": "Liberation Sans", "labelFontSize": 12, "labelPadding": 3, "labelAlign": "left", "labelBaseline": "middle",
"domain": true, "domainColor": "#a2a5af", "domainWidth": 3, "zindex": 1}},
"color": {"field": "key", "type": "nominal", "legend": null,
"scale": {"domain": ["a","b","c","d","e","f","g","h","i","j","k","l"],
"range": ["#6b944a","#8fe22e","#0c4a78","#b4f0a0","#16e83c","#c8dc5c","#c23a3e","#1c72ee","#17a88e","#bcdde8","#a49aa6","#30c4e6"]}},
"order": {"field": "key", "type": "ordinal", "sort": "ascending"}
}
},
{
"mark": {"type": "bar", "color": "#243247"},
"encoding": {"x": {"field": "x", "type": "ordinal"}, "y": {"datum": -0.65}, "y2": {"datum": -1.3}}
}
]
}
